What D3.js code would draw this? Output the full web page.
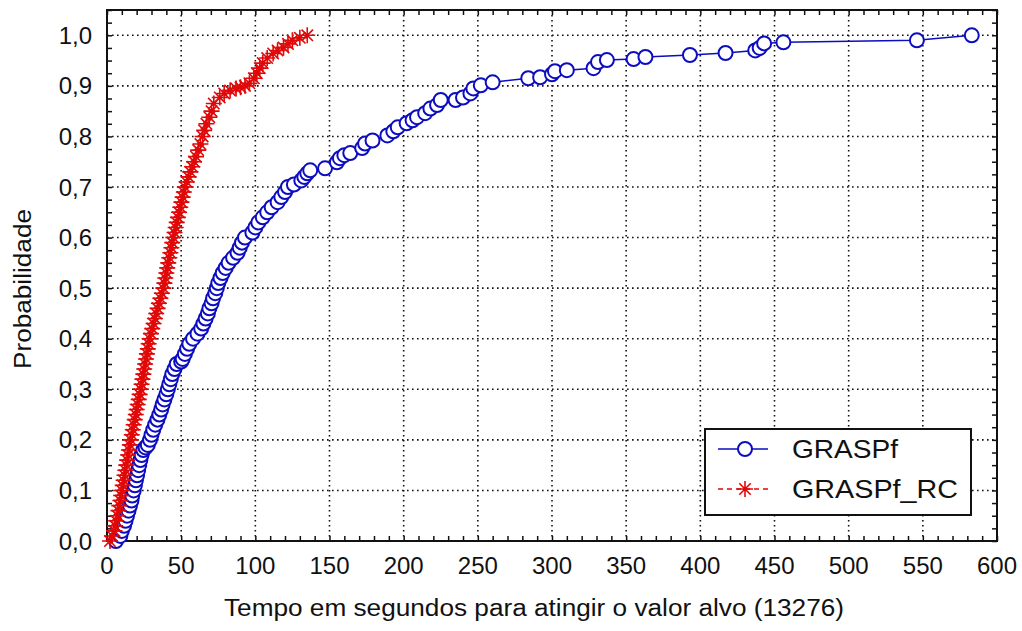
<!DOCTYPE html>
<html>
<head>
<meta charset="utf-8">
<script src="https://cdn.jsdelivr.net/npm/d3@7"></script>
<style>
  body { margin: 0; background: #fff; }
  svg text { font-family: "Liberation Sans", Arial, sans-serif; fill: #111; }
</style>
</head>
<body>
<div id="chart"></div>
<script>
///////// data //////////
// GRASPf : time to target (s) and cumulative probability
let graspfTime = [6, 9, 10, 11.5, 12.5, 13.5, 14.5, 15.5, 16.5, 17, 18, 18.8, 19.5, 20.3, 21, 21.7, 22.5, 23.3, 24.5, 26,
  27.5, 29, 30, 31.2, 32.5, 34, 35.3, 36.5, 37.5, 38.7, 40, 41, 42, 43, 44, 45.5, 47, 50, 51, 52.5,
  54, 55.5, 58, 61, 63.5, 65, 66.5, 68, 69, 70.5, 71.5, 73, 74, 75, 76.5, 78, 80, 82, 85, 88,
  89.5, 91, 93, 98, 100, 102, 105, 108, 111, 115, 117.5, 120, 122, 126, 131, 133, 135, 137, 147, 155,
  157, 160, 164, 172, 174, 179, 189, 193, 196, 202, 206, 209, 214.5, 218, 222.5, 225, 235, 240, 245, 247,
  252, 260, 284, 292, 300, 302, 310, 328, 331, 337, 355, 363, 393, 417, 437, 440, 443, 456, 546, 583];
let graspfProb = [0, 0.01, 0.02, 0.03, 0.04, 0.05, 0.06, 0.07, 0.08, 0.09, 0.10, 0.11, 0.12, 0.13, 0.14, 0.15, 0.16, 0.17, 0.18, 0.185,
  0.19, 0.20, 0.21, 0.22, 0.23, 0.24, 0.25, 0.26, 0.27, 0.28, 0.29, 0.30, 0.31, 0.32, 0.33, 0.34, 0.35, 0.355, 0.36, 0.37,
  0.38, 0.39, 0.40, 0.41, 0.42, 0.43, 0.44, 0.45, 0.46, 0.47, 0.48, 0.49, 0.50, 0.51, 0.52, 0.53, 0.54, 0.55, 0.56, 0.57,
  0.58, 0.59, 0.60, 0.61, 0.62, 0.63, 0.64, 0.65, 0.66, 0.67, 0.68, 0.69, 0.70, 0.705, 0.713, 0.72, 0.727, 0.733, 0.737, 0.749,
  0.757, 0.763, 0.767, 0.777, 0.786, 0.792, 0.802, 0.81, 0.818, 0.826, 0.832, 0.838, 0.846, 0.855, 0.862, 0.872, 0.872, 0.877, 0.885, 0.895,
  0.901, 0.907, 0.915, 0.917, 0.923, 0.929, 0.931, 0.935, 0.947, 0.951, 0.953, 0.957, 0.961, 0.965, 0.97, 0.975, 0.984, 0.986, 0.99, 1.0];

// GRASPf_RC
let graspfRcTime = [2, 3.5, 5, 5.5, 6.2, 7, 7.7, 8.3, 9, 9.5, 10, 10.6, 11.2, 11.8, 12.4, 13, 13.6, 14.2, 14.8, 15.4,
  16, 16.7, 17.4, 18, 18.7, 19.4, 20, 20.7, 21.4, 22, 22.7, 23.3, 23.9, 24.5, 25.1, 25.7, 26.3, 26.9, 27.5, 28.1,
  28.7, 29.6, 30.5, 31.4, 32.3, 33.2, 34.1, 35, 36, 37, 38, 38.7, 39.3, 40, 40.6, 41.3, 42, 42.7, 43.4, 44,
  44.7, 45.5, 46.3, 47, 47.8, 48.6, 49.4, 50.2, 51, 51.8, 52.5, 53.7, 55, 56.2, 57.5, 58.7, 60, 61.5, 63, 64.5,
  65.5, 67, 69, 70.5, 72, 76, 79, 83, 87, 90, 93, 96, 99, 101, 103, 105, 108, 112, 115, 119, 122, 125, 130, 135];
let graspfRcProb = [0, 0.01, 0.02, 0.03, 0.04, 0.05, 0.06, 0.07, 0.08, 0.09, 0.10, 0.11, 0.12, 0.13, 0.14, 0.15, 0.16, 0.17, 0.18, 0.19,
  0.20, 0.21, 0.22, 0.23, 0.24, 0.25, 0.26, 0.27, 0.28, 0.29, 0.30, 0.31, 0.32, 0.33, 0.34, 0.35, 0.36, 0.37, 0.38, 0.39,
  0.40, 0.41, 0.42, 0.43, 0.44, 0.45, 0.46, 0.47, 0.48, 0.49, 0.50, 0.51, 0.52, 0.53, 0.54, 0.55, 0.56, 0.57, 0.58, 0.59,
  0.60, 0.61, 0.62, 0.63, 0.64, 0.65, 0.66, 0.67, 0.68, 0.69, 0.70, 0.71, 0.72, 0.73, 0.74, 0.75, 0.76, 0.773, 0.785, 0.80,
  0.812, 0.825, 0.838, 0.85, 0.865, 0.877, 0.885, 0.891, 0.895, 0.897, 0.90, 0.905, 0.915, 0.925, 0.935, 0.945, 0.955, 0.964, 0.97, 0.976, 0.983, 0.99, 0.995, 1.0];

let xTicks = [0, 50, 100, 150, 200, 250, 300, 350, 400, 450, 500, 550, 600];
let yTicks = [0, 0.1, 0.2, 0.3, 0.4, 0.5, 0.6, 0.7, 0.8, 0.9, 1.0];
let seriesNames = ["GRASPf", "GRASPf_RC"];
let xTitle = "Tempo em segundos para atingir o valor alvo (13276)";
let yTitle = "Probabilidade";

////////////////////// drawing //////////////////////
let W = 1022, H = 631;
let margin = {top: 10, right: 25, bottom: 90, left: 107};
let width = W - margin.left - margin.right,
    height = H - margin.top - margin.bottom;

let blue = "#0c0cc0", red = "#e00808";

let svg = d3.select("#chart").append("svg")
  .attr("width", W).attr("height", H);
let g = svg.append("g").attr("transform", "translate(" + margin.left + "," + margin.top + ")");

let x = d3.scaleLinear().domain([0, 600]).range([0, width]);
let y = d3.scaleLinear().domain([0, 1.05]).range([height, 0]);

// dotted grid
g.append("g").selectAll("line").data(xTicks.slice(1, -1)).enter().append("line")
  .attr("x1", d => x(d)).attr("x2", d => x(d)).attr("y1", 0).attr("y2", height)
  .attr("stroke", "#111").attr("stroke-width", 1.6).attr("stroke-dasharray", "1.6,3.4");
g.append("g").selectAll("line").data(yTicks.slice(1)).enter().append("line")
  .attr("y1", d => y(d)).attr("y2", d => y(d)).attr("x1", 0).attr("x2", width)
  .attr("stroke", "#111").attr("stroke-width", 1.6).attr("stroke-dasharray", "1.6,3.4");

// inward ticks on all four sides
let xMinor = d3.range(0, 601, 10), yMinor = d3.range(0, 1.051, 0.025);
let tickLen = 5;
let ax = g.append("g");
ax.append("g").attr("transform", "translate(0," + height + ")")
  .call(d3.axisBottom(x).tickValues(xMinor).tickSize(-tickLen).tickFormat(""));
ax.append("g")
  .call(d3.axisTop(x).tickValues(xMinor).tickSize(-tickLen).tickFormat(""));
ax.append("g")
  .call(d3.axisLeft(y).tickValues(yMinor).tickSize(-tickLen).tickFormat(""));
ax.append("g").attr("transform", "translate(" + width + ",0)")
  .call(d3.axisRight(y).tickValues(yMinor).tickSize(-tickLen).tickFormat(""));
ax.selectAll(".domain").remove();
ax.selectAll(".tick line").attr("stroke", "#111").attr("stroke-width", 1.5);

// tick labels
let fmt = d => d.toFixed(1).replace(".", ",");
g.append("g").selectAll("text").data(xTicks).enter().append("text")
  .attr("x", d => x(d)).attr("y", height + 33)
  .attr("text-anchor", "middle").attr("font-size", 24).text(d => d);
g.append("g").selectAll("text").data(yTicks).enter().append("text")
  .attr("x", -15).attr("y", d => y(d) + 8.5)
  .attr("text-anchor", "end").attr("font-size", 24).text(fmt);

// frame
g.append("rect").attr("width", width).attr("height", height)
  .attr("fill", "none").attr("stroke", "#111").attr("stroke-width", 2);

// series
let blueData = graspfTime.map((t, i) => [t, graspfProb[i]]);
let redData = graspfRcTime.map((t, i) => [t, graspfRcProb[i]]);
let line = d3.line().x(d => x(d[0])).y(d => y(d[1]));
let star = "M-8,0H8M0,-8V8M-5.7,-5.7L5.7,5.7M-5.7,5.7L5.7,-5.7";

g.append("path").datum(blueData).attr("d", line)
  .attr("fill", "none").attr("stroke", blue).attr("stroke-width", 1.5);
g.append("g").selectAll("circle").data(blueData).enter().append("circle")
  .attr("cx", d => x(d[0])).attr("cy", d => y(d[1])).attr("r", 7)
  .attr("fill", "#fff").attr("stroke", blue).attr("stroke-width", 2);

g.append("path").datum(redData).attr("d", line)
  .attr("fill", "none").attr("stroke", red).attr("stroke-width", 1.3).attr("stroke-dasharray", "5,4");
g.append("g").selectAll("path").data(redData).enter().append("path")
  .attr("transform", d => "translate(" + x(d[0]) + "," + y(d[1]) + ")")
  .attr("d", star).attr("stroke", red).attr("stroke-width", 1.6).attr("fill", "none");

// legend
let lg = svg.append("g").attr("transform", "translate(705,429)");
lg.append("rect").attr("width", 266).attr("height", 86)
  .attr("fill", "#fff").attr("stroke", "#111").attr("stroke-width", 2);
lg.append("line").attr("x1", 13).attr("x2", 63).attr("y1", 20).attr("y2", 20)
  .attr("stroke", blue).attr("stroke-width", 1.5);
lg.append("circle").attr("cx", 40).attr("cy", 20).attr("r", 7)
  .attr("fill", "#fff").attr("stroke", blue).attr("stroke-width", 2);
lg.append("line").attr("x1", 13).attr("x2", 63).attr("y1", 60).attr("y2", 60)
  .attr("stroke", red).attr("stroke-width", 1.3).attr("stroke-dasharray", "5,4");
lg.append("path").attr("transform", "translate(40,60)").attr("d", star)
  .attr("stroke", red).attr("stroke-width", 1.6).attr("fill", "none");
lg.append("text").attr("x", 87).attr("y", 29).attr("font-size", 25)
  .attr("textLength", 106).attr("lengthAdjust", "spacingAndGlyphs").text(seriesNames[0]);
lg.append("text").attr("x", 87).attr("y", 69).attr("font-size", 25)
  .attr("textLength", 166).attr("lengthAdjust", "spacingAndGlyphs").text(seriesNames[1]);

// axis titles
svg.append("text").attr("x", 534).attr("y", 616).attr("text-anchor", "middle")
  .attr("font-size", 23).attr("textLength", 620).attr("lengthAdjust", "spacingAndGlyphs").text(xTitle);
svg.append("text").attr("transform", "translate(31,289) rotate(-90)").attr("text-anchor", "middle")
  .attr("font-size", 23).attr("textLength", 160).attr("lengthAdjust", "spacingAndGlyphs").text(yTitle);
</script>
</body>
</html>
